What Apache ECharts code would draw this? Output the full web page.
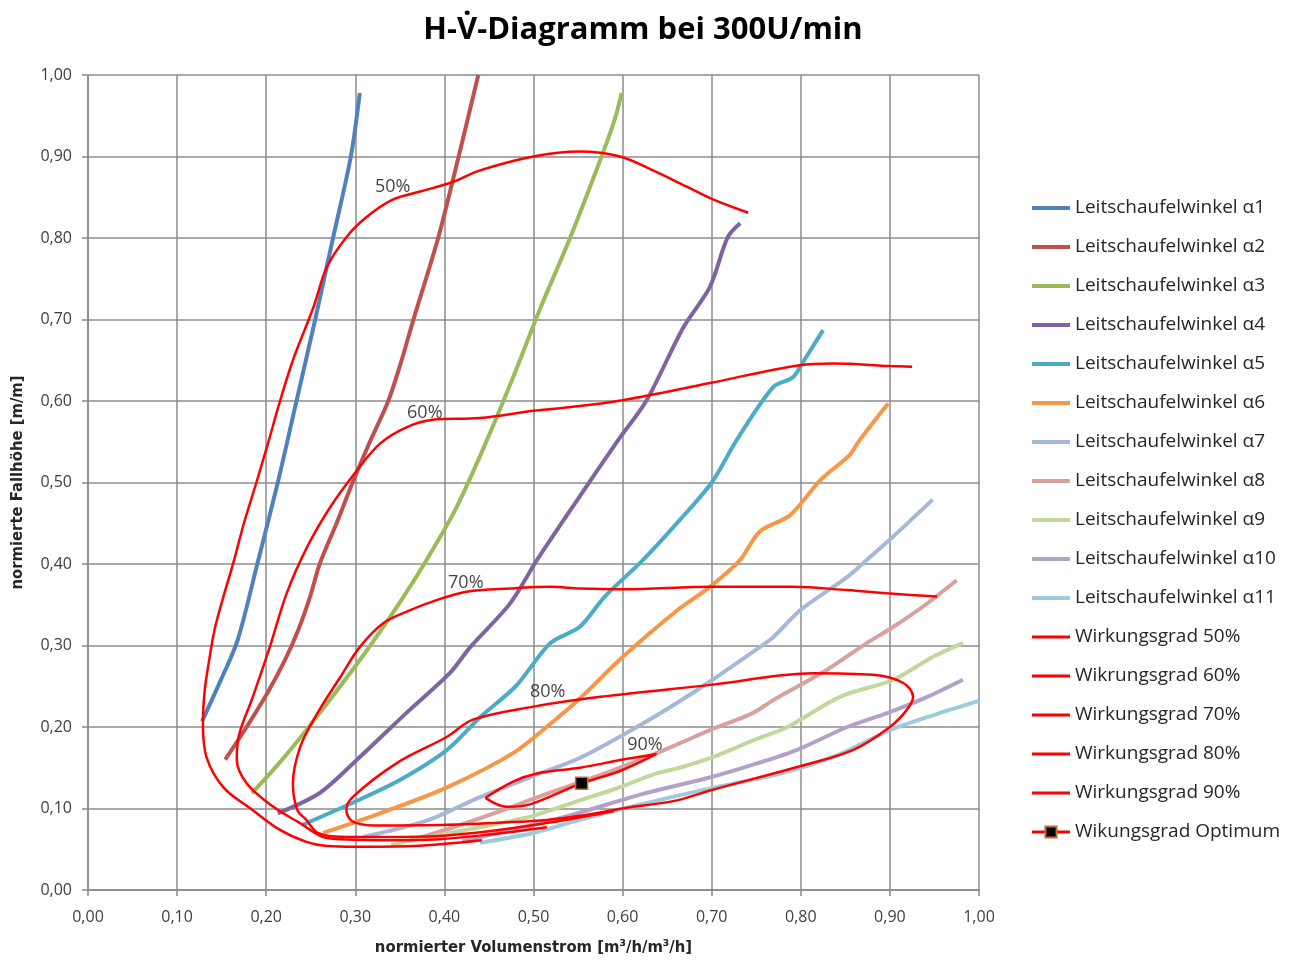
<!DOCTYPE html>
<html lang="de">
<head>
    <meta charset="UTF-8">
    <title>H-V-Diagramm</title>
    <script src="https://cdn.jsdelivr.net/npm/echarts@6/dist/echarts.min.js"></script>
    <style>
        body { margin: 0; background: #fff; }
        #chart { width: 1295px; height: 960px; }
    </style>
</head>
<body>
    <div id="chart"></div>
    <script>
        // Kennlinien der Leitschaufelwinkel [Volumenstrom, Fallhöhe]
        const alpha1 = [[0.128,0.207],[0.148,0.255],[0.168,0.307],[0.19,0.4],[0.213,0.5],[0.234,0.6],[0.255,0.7],[0.275,0.8],[0.295,0.9],[0.305,0.978]];
        const alpha2 = [[0.154,0.16],[0.178,0.2],[0.202,0.243],[0.221,0.282],[0.236,0.319],[0.249,0.359],[0.26,0.4],[0.279,0.45],[0.297,0.5],[0.316,0.549],[0.337,0.6],[0.352,0.65],[0.365,0.699],[0.393,0.8],[0.416,0.9],[0.438,1.0]];
        const alpha3 = [[0.184,0.119],[0.218,0.16],[0.26,0.217],[0.309,0.288],[0.35,0.353],[0.38,0.405],[0.412,0.466],[0.443,0.54],[0.476,0.626],[0.507,0.712],[0.541,0.8],[0.575,0.896],[0.591,0.945],[0.599,0.978]];
        const alpha4 = [[0.213,0.094],[0.26,0.119],[0.302,0.16],[0.361,0.221],[0.406,0.266],[0.429,0.298],[0.474,0.352],[0.504,0.405],[0.55,0.48],[0.595,0.552],[0.627,0.601],[0.668,0.69],[0.698,0.74],[0.718,0.801],[0.732,0.818]];
        const alpha5 = [[0.241,0.08],[0.297,0.107],[0.35,0.135],[0.403,0.172],[0.44,0.212],[0.48,0.25],[0.519,0.303],[0.552,0.323],[0.58,0.36],[0.623,0.405],[0.665,0.455],[0.7,0.5],[0.728,0.552],[0.769,0.617],[0.791,0.629],[0.802,0.647],[0.825,0.687]];
        const alpha6 = [[0.264,0.07],[0.33,0.095],[0.403,0.126],[0.477,0.168],[0.52,0.205],[0.552,0.235],[0.6,0.286],[0.661,0.343],[0.698,0.372],[0.732,0.405],[0.754,0.44],[0.788,0.46],[0.822,0.503],[0.855,0.534],[0.866,0.552],[0.898,0.597]];
        const alpha7 = [[0.309,0.065],[0.38,0.085],[0.44,0.114],[0.5,0.14],[0.552,0.162],[0.6,0.19],[0.65,0.222],[0.701,0.258],[0.754,0.298],[0.769,0.31],[0.799,0.343],[0.852,0.384],[0.874,0.405],[0.9,0.43],[0.948,0.479]];
        const alpha8 = [[0.36,0.06],[0.41,0.077],[0.466,0.098],[0.52,0.12],[0.58,0.143],[0.638,0.168],[0.664,0.18],[0.7,0.197],[0.746,0.217],[0.769,0.233],[0.829,0.27],[0.874,0.303],[0.904,0.323],[0.94,0.35],[0.975,0.38]];
        const alpha9 = [[0.34,0.055],[0.373,0.063],[0.43,0.075],[0.496,0.09],[0.552,0.11],[0.589,0.123],[0.638,0.143],[0.664,0.15],[0.701,0.163],[0.75,0.185],[0.785,0.2],[0.844,0.237],[0.904,0.258],[0.948,0.286],[0.982,0.303]];
        const alpha10 = [[0.42,0.06],[0.5,0.08],[0.552,0.095],[0.623,0.118],[0.701,0.139],[0.75,0.155],[0.796,0.172],[0.852,0.2],[0.897,0.217],[0.94,0.236],[0.982,0.258]];
        const alpha11 = [[0.44,0.058],[0.5,0.07],[0.552,0.086],[0.62,0.105],[0.7,0.125],[0.777,0.143],[0.84,0.165],[0.9,0.196],[0.95,0.215],[1.0,0.232]];

        // Wirkungsgrad-Isolinien
        const eta50 = [[0.442,0.061],[0.365,0.054],[0.3,0.053],[0.268,0.054],[0.245,0.059],[0.215,0.074],[0.185,0.098],[0.152,0.126],[0.133,0.163],[0.129,0.205],[0.131,0.245],[0.136,0.282],[0.142,0.319],[0.151,0.356],[0.163,0.401],[0.175,0.45],[0.189,0.5],[0.202,0.548],[0.215,0.598],[0.23,0.65],[0.253,0.715],[0.268,0.764],[0.29,0.801],[0.313,0.826],[0.342,0.847],[0.373,0.857],[0.41,0.869],[0.44,0.883],[0.5,0.9],[0.552,0.906],[0.597,0.9],[0.634,0.883],[0.672,0.863],[0.702,0.847],[0.741,0.831]];
        const eta60 = [[0.515,0.077],[0.45,0.068],[0.39,0.062],[0.339,0.061],[0.29,0.062],[0.264,0.065],[0.238,0.082],[0.208,0.102],[0.178,0.131],[0.167,0.16],[0.169,0.188],[0.185,0.237],[0.204,0.298],[0.223,0.364],[0.246,0.421],[0.272,0.47],[0.302,0.515],[0.328,0.548],[0.358,0.568],[0.387,0.577],[0.44,0.579],[0.5,0.588],[0.53,0.591],[0.6,0.601],[0.698,0.622],[0.799,0.644],[0.836,0.646],[0.9,0.643],[0.925,0.642]];
        const eta70 = [[0.59,0.097],[0.52,0.083],[0.45,0.072],[0.39,0.066],[0.339,0.065],[0.3,0.065],[0.272,0.066],[0.258,0.07],[0.252,0.076],[0.245,0.086],[0.235,0.098],[0.23,0.13],[0.238,0.175],[0.257,0.216],[0.283,0.261],[0.305,0.298],[0.331,0.327],[0.361,0.343],[0.392,0.356],[0.425,0.366],[0.474,0.37],[0.519,0.372],[0.552,0.37],[0.6,0.369],[0.701,0.372],[0.791,0.372],[0.852,0.368],[0.897,0.364],[0.953,0.36]];
        const eta80 = [[0.32,0.079],[0.403,0.08],[0.47,0.083],[0.515,0.086],[0.552,0.091],[0.6,0.1],[0.661,0.11],[0.701,0.123],[0.796,0.151],[0.859,0.172],[0.9,0.2],[0.919,0.221],[0.926,0.237],[0.915,0.254],[0.881,0.264],[0.814,0.266],[0.701,0.252],[0.575,0.237],[0.5,0.225],[0.432,0.209],[0.403,0.188],[0.347,0.156],[0.297,0.114],[0.29,0.098],[0.297,0.084],[0.32,0.079]];
        const eta90 = [[0.446,0.113],[0.47,0.102],[0.496,0.105],[0.554,0.131],[0.597,0.146],[0.638,0.167],[0.6,0.16],[0.552,0.15],[0.504,0.143],[0.477,0.133],[0.446,0.113]];
        const optimum = [[0.554,0.131]];

        const etaLabels = [[0.342,0.863,'50%'],[0.378,0.585,'60%'],[0.424,0.377,'70%'],[0.516,0.243,'80%'],[0.625,0.178,'90%']];

        const alphaNames = ['Leitschaufelwinkel α1','Leitschaufelwinkel α2','Leitschaufelwinkel α3','Leitschaufelwinkel α4','Leitschaufelwinkel α5','Leitschaufelwinkel α6','Leitschaufelwinkel α7','Leitschaufelwinkel α8','Leitschaufelwinkel α9','Leitschaufelwinkel α10','Leitschaufelwinkel α11'];
        const alphaColors = ['#4F81BD','#C0504D','#9BBB59','#8064A2','#4BACC6','#F79646','#A5B8D9','#D9A09E','#C3D69B','#B3A2C7','#9CCBDA'];
        const alphaData = [alpha1, alpha2, alpha3, alpha4, alpha5, alpha6, alpha7, alpha8, alpha9, alpha10, alpha11];
        const etaNames = ['Wirkungsgrad 50%','Wikrungsgrad 60%','Wirkungsgrad 70%','Wirkungsgrad 80%','Wirkungsgrad 90%'];
        const etaData = [eta50, eta60, eta70, eta80, eta90];
        const optName = 'Wikungsgrad Optimum';

        const fmt = v => v.toFixed(2).replace('.', ',');
        const font = 'Open Sans';
        const condensed = 'DejaVu Sans Condensed';

        const series = [];
        alphaData.forEach((d, i) => {
            series.push({
                name: alphaNames[i], type: 'line', data: d, smooth: 0.3,
                symbol: 'none', lineStyle: { width: 4, color: alphaColors[i] },
                itemStyle: { color: alphaColors[i] }
            });
        });
        etaData.forEach((d, i) => {
            series.push({
                name: etaNames[i], type: 'line', data: d, smooth: 0.35,
                symbol: 'none', lineStyle: { width: 2.5, color: '#FF0000' },
                itemStyle: { color: '#FF0000' }
            });
        });
        series.push({
            name: optName, type: 'line', data: optimum,
            symbol: 'rect', symbolSize: 12,
            lineStyle: { width: 2.5, color: '#FF0000' },
            itemStyle: { color: '#000', borderColor: '#C0702A', borderWidth: 1.5 }
        });
        series.push({
            name: 'labels', type: 'scatter', symbolSize: 0,
            data: etaLabels.map(l => ({ value: [l[0], l[1]], name: l[2] })),
            label: { show: true, position: 'inside', formatter: p => p.name, fontFamily: font, fontSize: 18, color: '#111' },
            silent: true
        });

        // Legende: nur Linie, beim Optimum zusätzlich das Quadrat
        const legendData = alphaNames.map(n => ({ name: n, itemStyle: { opacity: 0 }, lineStyle: { width: 4 } }))
            .concat(etaNames.map(n => ({ name: n, itemStyle: { opacity: 0 }, lineStyle: { width: 3 } })))
            .concat([{ name: optName, lineStyle: { width: 3 } }]);

        const chart = echarts.init(document.getElementById('chart'));
        chart.setOption({
            animation: false,
            backgroundColor: '#fff',
            title: {
                text: 'H-V\u0307-Diagramm bei 300U/min', left: 638, textAlign: 'center', top: 10,
                textStyle: { fontFamily: font, fontSize: 31, fontWeight: 'bold', color: '#000' }
            },
            legend: {
                orient: 'vertical', left: 1030, top: 198, padding: 0,
                data: legendData,
                itemWidth: 38, itemHeight: 14, itemGap: 19,
                textStyle: { fontFamily: font, fontSize: 19, color: '#262626', lineHeight: 20 }
            },
            grid: { left: 88, right: 316, top: 75, bottom: 70, outerBoundsMode: 'none' },
            xAxis: {
                type: 'value', min: 0, max: 1, interval: 0.1,
                name: 'normierter Volumenstrom [m³/h/m³/h]', nameLocation: 'middle', nameGap: 49,
                nameTextStyle: { fontFamily: condensed, fontWeight: 'bold', fontSize: 16.5, color: '#262626' },
                axisLine: { lineStyle: { color: '#888', width: 1.5 } },
                axisTick: { show: true, length: 6, lineStyle: { color: '#888', width: 1.5 } },
                axisLabel: { formatter: fmt, fontFamily: font, fontSize: 16, color: '#404040', margin: 19 },
                splitLine: { lineStyle: { color: '#8c8c8c', width: 1.5 } }
            },
            yAxis: {
                type: 'value', min: 0, max: 1, interval: 0.1,
                name: 'normierte Fallhöhe [m/m]', nameLocation: 'middle', nameGap: 62, nameRotate: 90,
                nameTextStyle: { fontFamily: condensed, fontWeight: 'bold', fontSize: 16.5, color: '#262626' },
                axisLine: { show: true, lineStyle: { color: '#888', width: 1.5 } },
                axisTick: { show: true, length: 6, lineStyle: { color: '#888', width: 1.5 } },
                axisLabel: { formatter: fmt, fontFamily: font, fontSize: 16, color: '#404040', margin: 16 },
                splitLine: { lineStyle: { color: '#8c8c8c', width: 1.5 } }
            },
            series: series
        });
    </script>
</body>
</html>
